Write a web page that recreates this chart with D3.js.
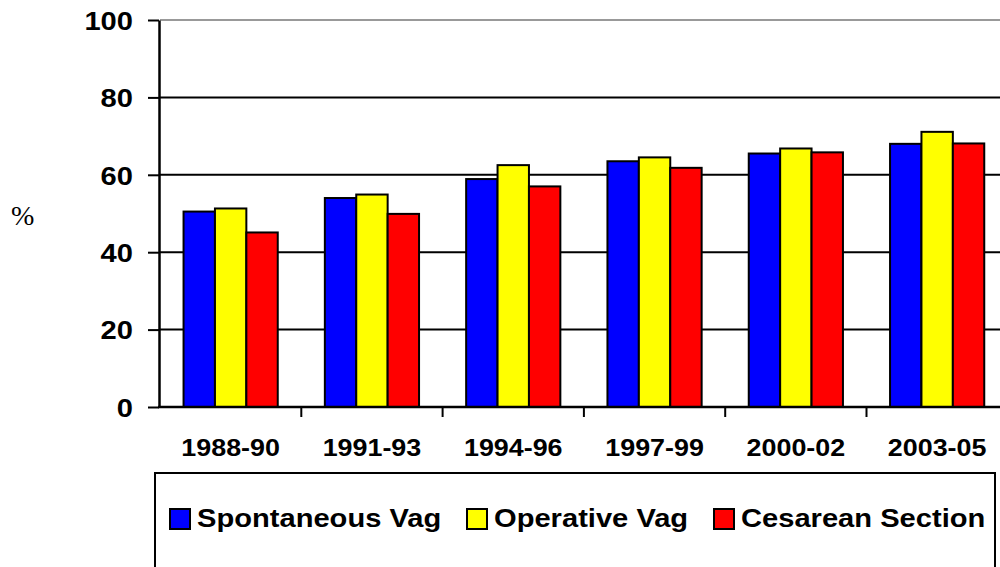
<!DOCTYPE html>
<html lang="en">
<head>
    <meta charset="utf-8">
    <title>Delivery mode by period</title>
    <script src="https://d3js.org/d3.v7.min.js"></script>
    <style>
        body, html {
            margin: 0;
            padding: 0;
            background: #fff;
            overflow: hidden;
        }
        svg text {
            font-family: Arial, "Liberation Sans", Helvetica, sans-serif;
            font-weight: bold;
            fill: #000;
        }
    </style>
</head>
<body>
    <svg width="1000" height="567"></svg>
    <script>
        // data
        var periods = ["1988-90", "1991-93", "1994-96", "1997-99", "2000-02", "2003-05"];
        var seriesNames = ["Spontaneous Vag", "Operative Vag", "Cesarean Section"];
        var seriesColors = ["#0000ff", "#ffff00", "#ff0000"];
        var spontaneous = [50.5, 54.0, 58.9, 63.5, 65.5, 68.0];
        var operative = [51.3, 54.9, 62.5, 64.5, 66.8, 71.1];
        var cesarean = [45.1, 49.9, 57.0, 61.8, 65.8, 68.1];
        var yTicks = [0, 20, 40, 60, 80, 100];

        var values = [spontaneous, operative, cesarean];
        var stretch = 1.12; // the original text is drawn a little wide

        var svg = d3.select("svg"),
            plotLeft = 160,
            plotTop = 20,
            plotBottom = 407,
            band = 141.3,
            plotRight = plotLeft + band * periods.length;

        var x = d3.scaleBand().domain(periods).range([plotLeft, plotRight]).padding(0);
        var xs = d3.scaleBand().domain(seriesNames)
            .range([band / 6, band * 5 / 6]).padding(0);
        var y = d3.scaleLinear().domain([0, 100]).range([plotBottom, plotTop]);
        var color = d3.scaleOrdinal().domain(seriesNames).range(seriesColors);

        // gridlines
        svg.append("g").selectAll("line")
            .data(yTicks.filter(function (d) { return d > 0; }))
            .enter().append("line")
            .attr("x1", plotLeft).attr("x2", plotRight)
            .attr("y1", function (d) { return y(d); })
            .attr("y2", function (d) { return y(d); })
            .attr("stroke", function (d) { return d === 100 ? "#999" : "#000"; })
            .attr("stroke-width", 2);

        // bars
        var rows = periods.map(function (p, i) {
            return { period: p, vals: seriesNames.map(function (s, j) { return { key: s, value: values[j][i] }; }) };
        });

        svg.append("g").selectAll("g")
            .data(rows)
            .enter().append("g")
            .attr("transform", function (d) { return "translate(" + x(d.period) + ",0)"; })
            .selectAll("rect")
            .data(function (d) { return d.vals; })
            .enter().append("rect")
            .attr("x", function (d) { return xs(d.key); })
            .attr("width", xs.bandwidth())
            .attr("y", function (d) { return y(d.value); })
            .attr("height", function (d) { return plotBottom - y(d.value); })
            .attr("fill", function (d) { return color(d.key); })
            .attr("stroke", "#000")
            .attr("stroke-width", 2);

        // y axis
        var yAxis = svg.append("g")
            .attr("transform", "translate(" + (plotLeft - 1) + ",0)")
            .call(d3.axisLeft(y).tickValues(yTicks).tickSizeInner(11).tickSizeOuter(0).tickFormat(d3.format("d")));
        yAxis.select(".domain").attr("stroke", "#000").attr("stroke-width", 2.5);
        yAxis.selectAll(".tick line").attr("stroke", "#000").attr("stroke-width", 2);
        yAxis.selectAll(".tick text")
            .attr("x", 0).attr("dy", "0.36em")
            .attr("transform", "translate(-26,0) scale(" + stretch + ",1)")
            .style("font-size", "26px")
            .style("font-family", "Arial, 'Liberation Sans', sans-serif")
            .style("font-weight", "bold")
            .attr("fill", "#000");

        // x axis: labels from the band scale, ticks on band edges
        var xAxis = svg.append("g")
            .attr("transform", "translate(0," + plotBottom + ")")
            .call(d3.axisBottom(x).tickSize(0).tickPadding(0));
        xAxis.select(".domain").remove();
        xAxis.selectAll(".tick text")
            .attr("y", 0).attr("dy", 0)
            .attr("transform", "translate(0,49) scale(" + stretch + ",1)")
            .style("font-size", "24px")
            .style("font-family", "Arial, 'Liberation Sans', sans-serif")
            .style("font-weight", "bold")
            .attr("fill", "#000");

        svg.append("line")
            .attr("x1", plotLeft - 2).attr("x2", plotRight)
            .attr("y1", plotBottom).attr("y2", plotBottom)
            .attr("stroke", "#000").attr("stroke-width", 2.5);

        svg.append("g").selectAll("line")
            .data(periods)
            .enter().append("line")
            .attr("x1", function (d) { return x(d) + x.bandwidth(); })
            .attr("x2", function (d) { return x(d) + x.bandwidth(); })
            .attr("y1", plotBottom).attr("y2", plotBottom + 10)
            .attr("stroke", "#000").attr("stroke-width", 2);

        // % label
        svg.append("text")
            .attr("x", 11).attr("y", 225)
            .style("font-family", "'Times New Roman', 'Liberation Serif', serif")
            .style("font-weight", "normal")
            .style("font-size", "28px")
            .text("%");

        // legend
        var legend = svg.append("g");
        legend.append("rect")
            .attr("x", 155).attr("y", 473)
            .attr("width", 840).attr("height", 120)
            .attr("fill", "#fff")
            .attr("stroke", "#000").attr("stroke-width", 2);

        var legendX = [170, 467, 714];
        var items = legend.selectAll("g.item")
            .data(seriesNames)
            .enter().append("g")
            .attr("class", "item")
            .attr("transform", function (d, i) { return "translate(" + legendX[i] + ",509)"; });

        items.append("rect")
            .attr("width", 20).attr("height", 20)
            .attr("fill", function (d) { return color(d); })
            .attr("stroke", "#000").attr("stroke-width", 2);

        items.append("text")
            .attr("transform", "translate(27,18) scale(" + stretch + ",1)")
            .style("font-size", "26px")
            .text(function (d) { return d; });
    </script>
</body>
</html>
